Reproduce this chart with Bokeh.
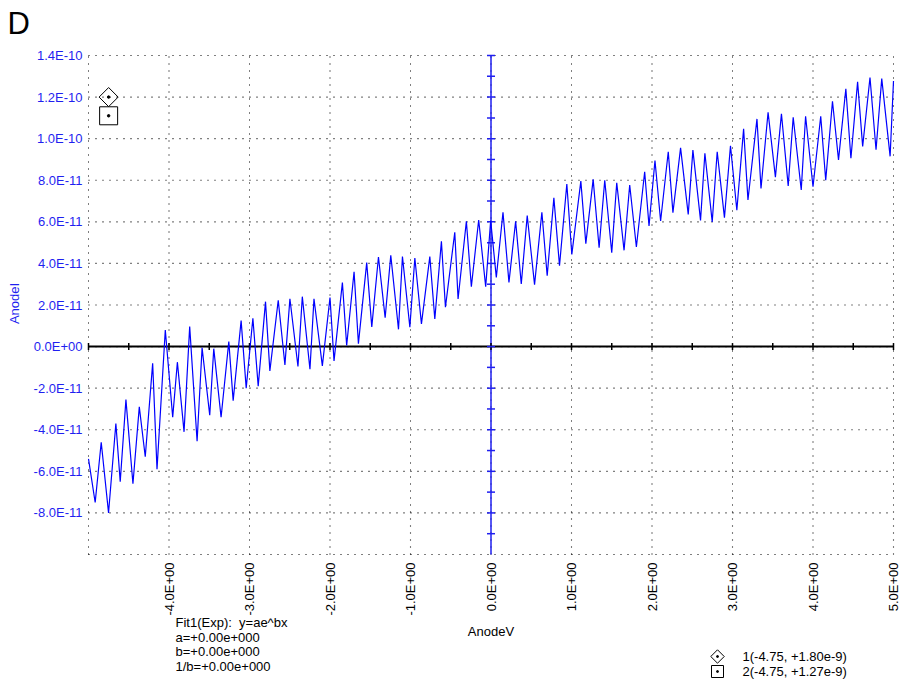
import numpy as np
from bokeh.plotting import figure
from bokeh.models import Range1d
from bokeh.core.properties import value
from bokeh.embed import file_html
from bokeh.resources import INLINE

# ---------------- data (AnodeI in units of 1e-11 A) ----------------
anode_v = [
    -5.000, -4.917, -4.842, -4.751, -4.660, -4.606, -4.535, -4.448, -4.369, -4.295,
    -4.203, -4.149, -4.046, -3.954, -3.896, -3.813, -3.743, -3.651, -3.589, -3.494,
    -3.444, -3.353, -3.257, -3.203, -3.104, -3.041,
    -2.958, -2.892, -2.801, -2.747, -2.643, -2.560, -2.498, -2.398, -2.344, -2.249,
    -2.199, -2.095, -2.000, -1.950, -1.846, -1.793, -1.701, -1.647, -1.544, -1.481,
    -1.398, -1.315, -1.245, -1.149, -1.100,
    -1.008, -0.946, -0.864, -0.760, -0.698, -0.616, -0.566, -0.450, -0.409, -0.306,
    -0.244, -0.153, -0.066, -0.004, 0.066, 0.149, 0.223, 0.306, 0.376, 0.450,
    0.541, 0.632, 0.698, 0.781, 0.851, 0.942,
    1.004, 1.116, 1.178, 1.269, 1.343, 1.413, 1.500, 1.562, 1.653, 1.723,
    1.806, 1.909, 1.963, 2.037, 2.107, 2.202, 2.260, 2.355, 2.450, 2.508,
    2.603, 2.657, 2.748, 2.810, 2.900, 2.975,
    3.054, 3.138, 3.192, 3.304, 3.354, 3.442, 3.533, 3.608, 3.692, 3.754,
    3.854, 3.908, 4.000, 4.096, 4.158, 4.242, 4.317, 4.408, 4.471, 4.554,
    4.617, 4.708, 4.783, 4.854, 4.958, 5.000,
]
anode_i_e11 = [
    -5.40, -7.50, -4.60, -8.00, -3.70, -6.50, -2.55, -6.60, -2.90, -5.30,
    -0.80, -5.90, 0.80, -3.40, -0.75, -4.10, 0.96, -4.55, -0.06, -3.30,
    -0.10, -3.40, 0.24, -2.60, 1.25, -2.00,
    1.36, -1.90, 2.16, -1.17, 2.23, -0.88, 2.30, -0.96, 2.40, -1.09,
    2.30, -0.93, 2.36, -0.69, 3.08, 0.05, 3.60, 0.14, 4.04, 0.95,
    4.31, 1.39, 4.39, 0.83, 4.33,
    0.93, 4.26, 1.09, 4.33, 1.33, 5.06, 1.89, 5.50, 2.29, 6.03,
    2.88, 6.09, 2.88, 6.06, 3.33, 6.46, 3.09, 6.03, 3.01, 6.30,
    2.98, 6.46, 3.41, 7.15, 3.89, 7.82,
    4.43, 7.96, 4.95, 8.04, 4.75, 8.00, 4.51, 7.88, 4.63, 7.77,
    4.79, 8.41, 5.80, 8.95, 6.04, 9.37, 6.44, 9.56, 6.36, 9.45,
    6.07, 9.30, 6.00, 9.37, 6.20, 9.66,
    6.56, 10.47, 7.05, 10.95, 7.61, 11.27, 8.15, 11.20, 7.73, 11.03,
    7.53, 11.08, 7.69, 11.08, 8.00, 11.80, 8.98, 12.40, 9.06, 12.73,
    9.63, 12.94, 9.47, 12.89, 9.15, 12.77,
]

x_ticks = [-5, -4, -3, -2, -1, 0, 1, 2, 3, 4, 5]
x_tick_labels = ["", "-4.0E+00", "-3.0E+00", "-2.0E+00", "-1.0E+00", "0.0E+00",
                 "1.0E+00", "2.0E+00", "3.0E+00", "4.0E+00", "5.0E+00"]
y_ticks = [-10, -8, -6, -4, -2, 0, 2, 4, 6, 8, 10, 12, 14]
y_tick_labels = ["", "-8.0E-11", "-6.0E-11", "-4.0E-11", "-2.0E-11", "0.0E+00",
                 "2.0E-11", "4.0E-11", "6.0E-11", "8.0E-11", "1.0E-10", "1.2E-10", "1.4E-10"]
x_title = "AnodeV"
y_title = "AnodeI"
panel_letter = "D"

fit_lines = ["Fit1(Exp):\u00a0 y=ae^bx", "a=+0.00e+000", "b=+0.00e+000", "1/b=+0.00e+000"]
cursor_labels = ["1(-4.75, +1.80e-9)", "2(-4.75, +1.27e-9)"]
cursor_x = [-4.75, -4.75]
cursor_shown_y = [12.0, 11.1]   # where the (off-scale) cursors are pinned on screen

# ---------------- layout ----------------
W, H = 903, 681
L, R, T, B = 88, 10, 55, 127          # plot-area margins inside the canvas
FW, FH = W - L - R, H - T - B
X0, X1 = -5, 5
Y0, Y1 = -10, 14


def xd(px):
    return X0 + (px - L) * (X1 - X0) / FW


def yd(py):
    return Y1 - (py - T) * (Y1 - Y0) / FH


BLUE = "#1f1ff0"
FONT = value("Liberation Sans")
FS = value("13px")

# the frame is the whole canvas, so nothing outside the plot area is clipped
p = figure(width=W, height=H, x_range=Range1d(xd(0), xd(W)), y_range=Range1d(yd(H), yd(0)),
           output_backend="svg", toolbar_location=None, min_border=0,
           x_axis_location=None, y_axis_location=None,
           background_fill_color="white", border_fill_color="white",
           outline_line_color=None)
p.xgrid.visible = False
p.ygrid.visible = False

# dotted grid (at every labelled tick, incl. plot edges)
nx, ny = len(x_ticks), len(y_ticks)
p.segment(x0=x_ticks, y0=[Y0] * nx, x1=x_ticks, y1=[Y1] * nx,
          line_color="black", line_dash="1 6", line_width=1.1)
p.segment(x0=[X0] * ny, y0=y_ticks, x1=[X1] * ny, y1=y_ticks,
          line_color="black", line_dash="1 6", line_width=1.1)

# centre axes with their small ticks
p.segment(x0=[X0], y0=[0], x1=[X1], y1=[0], line_color="black", line_width=2)
p.segment(x0=[0], y0=[Y0], x1=[0], y1=[Y1], line_color=BLUE, line_width=1.5)
half_steps = np.arange(X0, X1 + 0.01, 0.5)
p.scatter(half_steps, np.zeros_like(half_steps), marker="dash", angle=np.pi / 2,
          size=7, line_color="black", line_width=1.5)
unit_steps = np.arange(Y0 + 1, Y1 + 0.01, 1.0)
p.scatter(np.zeros_like(unit_steps), unit_steps, marker="dash",
          size=8, line_color=BLUE, line_width=1.5)

# tick labels
p.text(x=[X0] * ny, y=y_ticks, text=y_tick_labels, x_offset=-6,
       text_align="right", text_baseline="middle",
       text_font=FONT, text_font_size=FS, text_color=BLUE)
p.text(x=x_ticks, y=[Y0] * nx, text=x_tick_labels, angle=np.pi / 2, y_offset=8,
       text_align="right", text_baseline="middle",
       text_font=FONT, text_font_size=FS, text_color="black")

# axis titles
p.text(x=[0], y=[yd(631)], text=[x_title], text_align="center",
       text_baseline="middle", text_font=FONT, text_font_size=FS, text_color="black")
p.text(x=[xd(14)], y=[yd(303)], text=[y_title], angle=np.pi / 2,
       text_align="center", text_baseline="middle",
       text_font=FONT, text_font_size=FS, text_color=BLUE)

# data
p.line(anode_v, np.array(anode_i_e11), line_color="#0000ff", line_width=1.2)

# cursors in plot
p.scatter([cursor_x[0]], [cursor_shown_y[0]], marker="square", angle=np.pi / 4, size=13.5,
          fill_color=None, line_color="black", line_width=1)
p.scatter([cursor_x[1]], [cursor_shown_y[1]], marker="square", size=18,
          fill_color=None, line_color="black", line_width=1)
p.scatter(cursor_x, cursor_shown_y, marker="circle", size=2.5,
          fill_color="black", line_color="black")

# panel letter
p.text(x=[xd(7)], y=[yd(22.5)], text=[panel_letter], text_font=FONT,
       text_font_size=value("31px"), text_color="black",
       text_baseline="middle", text_align="left")

# fit text block
p.text(x=[xd(175)] * len(fit_lines), y=[yd(622 + 14.5 * i) for i in range(len(fit_lines))],
       text=fit_lines, text_font=FONT, text_font_size=FS, text_color="black",
       text_baseline="middle", text_align="left")

# cursor legend
leg_x = [xd(717)] * 2
leg_y = [yd(656), yd(671)]
p.scatter([leg_x[0]], [leg_y[0]], marker="square", angle=np.pi / 4, size=9.5,
          fill_color=None, line_color="black", line_width=1)
p.scatter([leg_x[1]], [leg_y[1]], marker="square", size=12,
          fill_color=None, line_color="black", line_width=1)
p.scatter(leg_x, leg_y, marker="circle", size=2, fill_color="black", line_color="black")
p.text(x=[xd(742)] * 2, y=leg_y, text=cursor_labels,
       text_font=FONT, text_font_size=FS, text_color="black",
       text_baseline="middle", text_align="left")

open("out.html", "w").write(file_html(p, INLINE))
